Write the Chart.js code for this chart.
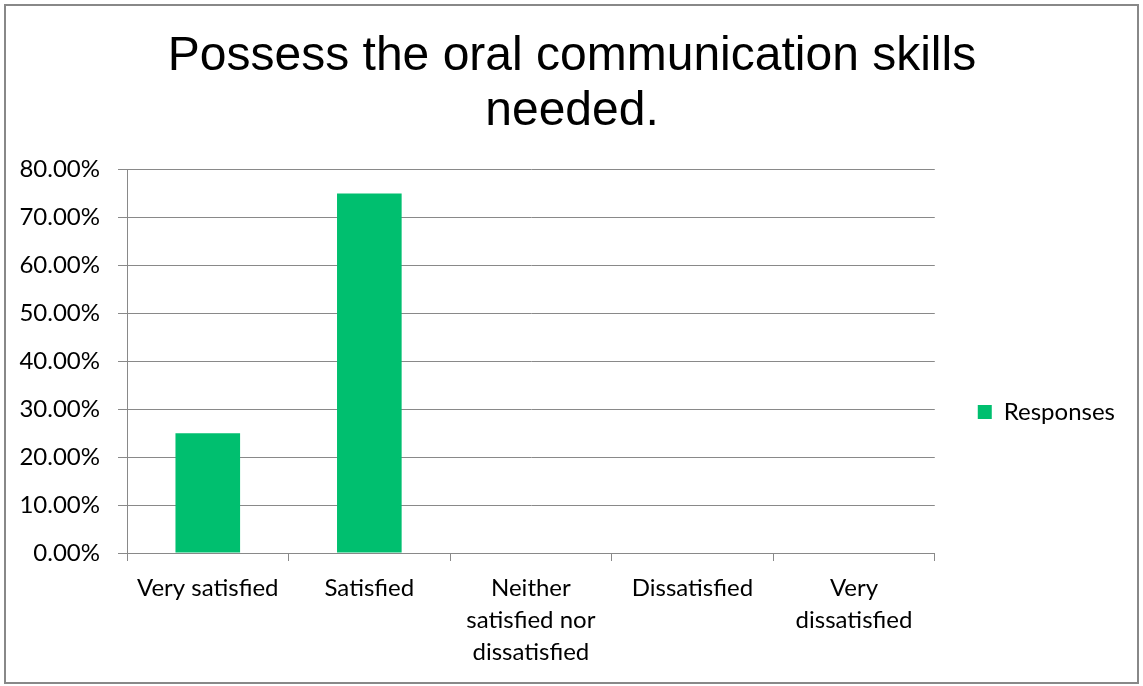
<!DOCTYPE html>
<html>
<head>
<meta charset="utf-8">
<script src="https://cdn.jsdelivr.net/npm/chart.js@4/dist/chart.umd.min.js"></script>
<style>
  html, body { margin: 0; padding: 0; background: #fff; }
  #wrap { width: 1143px; height: 686px; }
</style>
</head>
<body>
<div id="wrap"><canvas id="oralChart" width="1143" height="686"></canvas></div>
<script>
var categories = [
    "Very satisfied",
    "Satisfied",
    ["Neither", "satisfied nor", "dissatisfied"],
    "Dissatisfied",
    ["Very", "dissatisfied"]
];
var responses = [25, 75, 0, 0, 0];
var yTicks = [0, 10, 20, 30, 40, 50, 60, 70, 80];

var titleLines = ["Possess the oral communication skills", "needed."];

// grey frame round the whole chart, like the office export
var framePlugin = {
    id: "frame",
    beforeDraw: function (chart) {
        var ctx = chart.ctx;
        ctx.save();
        ctx.fillStyle = "#ffffff";
        ctx.fillRect(0, 0, chart.width, chart.height);
        ctx.strokeStyle = "#888888";
        ctx.lineWidth = 2;
        ctx.strokeRect(5, 5, chart.width - 10, chart.height - 8);
        ctx.restore();
    }
};

// the legend sits in the middle of the space under the title, not of the plot
var legendShift = {
    id: "legendShift",
    afterLayout: function (chart) {
        var lg = chart.legend;
        if (!lg) return;
        lg.top += 69;
        lg.bottom += 69;
    }
};

var ctx = document.getElementById("oralChart").getContext("2d");
var oralChart = new Chart(ctx, {
    type: "bar",
    data: {
        labels: categories,
        datasets: [{
            label: "Responses",
            data: responses,
            backgroundColor: "#00BF6F",
            borderWidth: 0,
            barPercentage: 0.4,
            categoryPercentage: 1.0
        }]
    },
    options: {
        responsive: false,
        animation: false,
        layout: {
            padding: { left: 19, right: 18, top: 8, bottom: 8 }
        },
        plugins: {
            title: {
                display: true,
                text: titleLines,
                color: "#000",
                font: { family: "'Liberation Sans', Arial, sans-serif", size: 48, weight: "normal", lineHeight: 1.15 },
                padding: { top: 21, bottom: 30 }
            },
            legend: {
                position: "right",
                align: "center",
                labels: {
                    color: "#000",
                    boxWidth: 14,
                    boxHeight: 14,
                    font: { family: "Lato, 'Open Sans', sans-serif", size: 24 },
                    padding: 43
                }
            },
            tooltip: { enabled: false }
        },
        scales: {
            x: {
                grid: {
                    display: true,
                    drawOnChartArea: false,
                    drawTicks: true,
                    tickLength: 8,
                    color: "#898989",
                    offset: true
                },
                border: { color: "#898989", width: 1 },
                ticks: {
                    color: "#000",
                    maxRotation: 0,
                    autoSkip: false,
                    padding: 11,
                    font: { family: "Lato, 'Open Sans', sans-serif", size: 24, lineHeight: 1.33 }
                },
                afterFit: function (scale) { scale.height = 125; }
            },
            y: {
                min: 0,
                max: 80,
                afterBuildTicks: function (scale) {
                    scale.ticks = yTicks.map(function (v) { return { value: v }; });
                },
                grid: {
                    color: "#898989",
                    tickLength: 9,
                    lineWidth: 1
                },
                border: { color: "#898989", width: 1 },
                ticks: {
                    color: "#000",
                    padding: 18,
                    font: { family: "Lato, 'Open Sans', sans-serif", size: 24 },
                    callback: function (value) { return value.toFixed(2) + "%"; }
                },
                afterFit: function (scale) { scale.width = 108; }
            }
        }
    },
    plugins: [framePlugin, legendShift]
});
</script>
</body>
</html>
